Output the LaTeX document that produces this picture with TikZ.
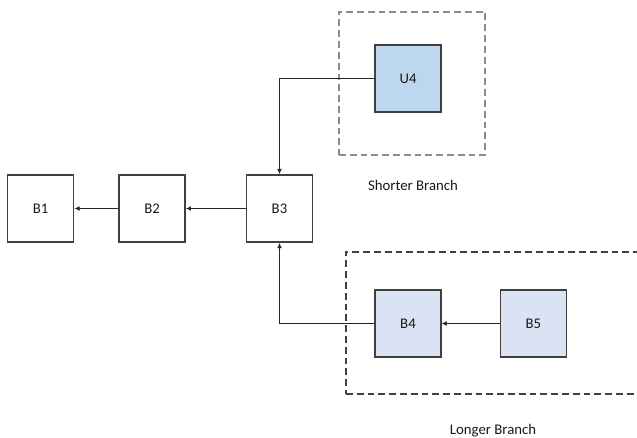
\documentclass[tikz,border=0pt]{standalone}
\usepackage{fontspec}
\setmainfont{Carlito}
\usepackage{xcolor}
\usepackage{tikz}
\usetikzlibrary{arrows.meta, positioning}

\definecolor{u4blue}{RGB}{189,215,238}
\definecolor{bluegray}{RGB}{218,227,243}
\definecolor{edgegray}{RGB}{64,64,64}

\begin{document}
\begin{tikzpicture}[
    x=0.025cm, y=-0.025cm,
    node distance=1.5cm,
    box/.style={rectangle, draw=edgegray, line width=1pt, minimum width=1.65cm, minimum height=1.68cm, font=\fontsize{10.5}{12}\selectfont\color{black!90}},
    group/.style={rectangle, draw, dash pattern=on 1.7mm off 1mm, line width=0.9pt, inner sep=0pt},
    caption/.style={font=\fontsize{10.5}{12}\selectfont\color{black!90}},
    arrow/.style={-{Latex[length=1.3mm, width=1.2mm]}, line width=0.7pt, draw=black!85},
]
\clip (0,0) rectangle (637,437);

% frames of the two branches
\node[group, draw=black!45, minimum width=3.65cm, minimum height=3.58cm] (shortgrp) at (412,83.5) {};
\node[group, draw=black!75, minimum width=10cm, minimum height=3.55cm] (longgrp) at (546,323) {};
\node[caption] (shortlbl) at (413,185) {Shorter Branch};
\node[caption] (longlbl) at (493,431) {Longer Branch};

% main chain
\node[box] (b3) at (279.5,208.5) {B3};
\node[box, left=1.5cm of b3] (b2) {B2};
\node[box, left=1.1cm of b2] (b1) {B1};

% branches
\node[box, fill=u4blue] (u4) at (408,78.5) {U4};
\node[box, fill=bluegray] (b4) at (408,323.5) {B4};
\node[box, fill=bluegray, right=1.45cm of b4] (b5) {B5};

\draw[arrow] (b3) -- (b2);
\draw[arrow] (b2) -- (b1);
\draw[arrow] (u4.west) -| (b3.north);
\draw[arrow] (b4.west) -| (b3.south);
\draw[arrow, line width=0.4pt] (b5) -- (b4);
\end{tikzpicture}
\end{document}
